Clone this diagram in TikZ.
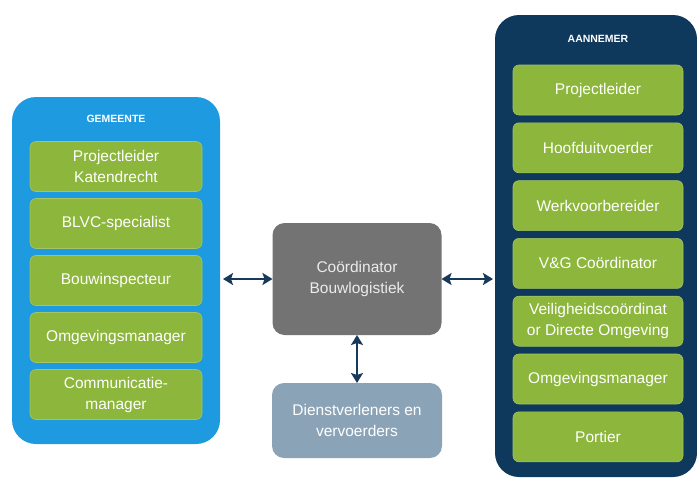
\documentclass[tikz,border=0pt]{standalone}
\usepackage{fontspec}
\setmainfont{Liberation Sans}
\usetikzlibrary{positioning, arrows.meta}
\definecolor{gemblue}{HTML}{1E9BE0}
\definecolor{annnavy}{HTML}{0E395C}
\definecolor{rolegreen}{HTML}{8CB63C}
\definecolor{coordgray}{HTML}{737373}
\definecolor{dienstgray}{HTML}{8BA3B6}
\definecolor{linknavy}{HTML}{183A5A}
\tikzset{
  party/.style={rounded corners=24pt, inner sep=0pt, outer sep=0pt},
  partytitle/.style={text=white, font=\bfseries\fontsize{10.5}{12}\selectfont},
  role/.style={fill=rolegreen, draw=rolegreen!80!white, line width=0.6pt, rounded corners=6pt,
    minimum height=50pt, inner sep=0pt, outer sep=0pt, text=white, align=center,
    font=\fontsize{15.5}{21}\selectfont},
  hub/.style={rounded corners=12pt, inner sep=0pt, outer sep=0pt, align=center,
    font=\fontsize{15.5}{21}\selectfont},
  link/.style={{Stealth[length=10pt,width=12pt,inset=2pt]}-{Stealth[length=10pt,width=12pt,inset=2pt]}, line width=2.8pt, draw=linknavy}
}
\begin{document}
\begin{tikzpicture}[x=1pt, y=-1pt]
            \useasboundingbox (0,0) rectangle (697,480);
            % gemeente
            \node [party, fill=gemblue, minimum width=208pt, minimum height=347pt] (gem) at (116,270.5) {};
            \node [partytitle] (gemtitle) at (116,119) {GEMEENTE};
            \node [role, minimum width=172pt] (g1) at (116,166.5) {Projectleider\\Katendrecht};
            \node [role, minimum width=172pt, below=7pt of g1] (g2) {BLVC-specialist};
            \node [role, minimum width=172pt, below=7pt of g2] (g3) {Bouwinspecteur};
            \node [role, minimum width=172pt, below=7pt of g3] (g4) {Omgevingsmanager};
            \node [role, minimum width=172pt, below=7pt of g4] (g5) {Communicatie-\\manager};

            % aannemer
            \node [party, fill=annnavy, minimum width=202pt, minimum height=462pt] (ann) at (596,246) {};
            \node [partytitle] (anntitle) at (598,39) {AANNEMER};
            \node [role, minimum width=170pt] (a1) at (598,90) {Projectleider};
            \node [role, minimum width=170pt, below=7.8pt of a1] (a2) {Hoofduitvoerder};
            \node [role, minimum width=170pt, below=7.8pt of a2] (a3) {Werkvoorbereider};
            \node [role, minimum width=170pt, below=7.8pt of a3] (a4) {V\&G Coördinator};
            \node [role, minimum width=170pt, below=7.8pt of a4] (a5) {Veiligheidscoördinat\\or Directe Omgeving};
            \node [role, minimum width=170pt, below=7.8pt of a5] (a6) {Omgevingsmanager};
            \node [role, minimum width=170pt, below=7.8pt of a6] (a7) {Portier};

            % midden
            \node [hub, fill=coordgray, text=white!92!black, minimum width=169pt, minimum height=112pt] (coord) at (357,279) {Coördinator\\Bouwlogistiek};
            \node [hub, fill=dienstgray, text=white, minimum width=170pt, minimum height=75pt, below=48pt of coord] (dienst) {Dienstverleners en\\vervoerders};

            \draw[link, shorten >=3pt] (coord.west) -- (coord.west -| gem.east);
            \draw[link, shorten >=2pt] (coord.east) -- (coord.east -| ann.west);
            \draw[link] (coord.south) -- (dienst.north);
        \end{tikzpicture}
\end{document}
